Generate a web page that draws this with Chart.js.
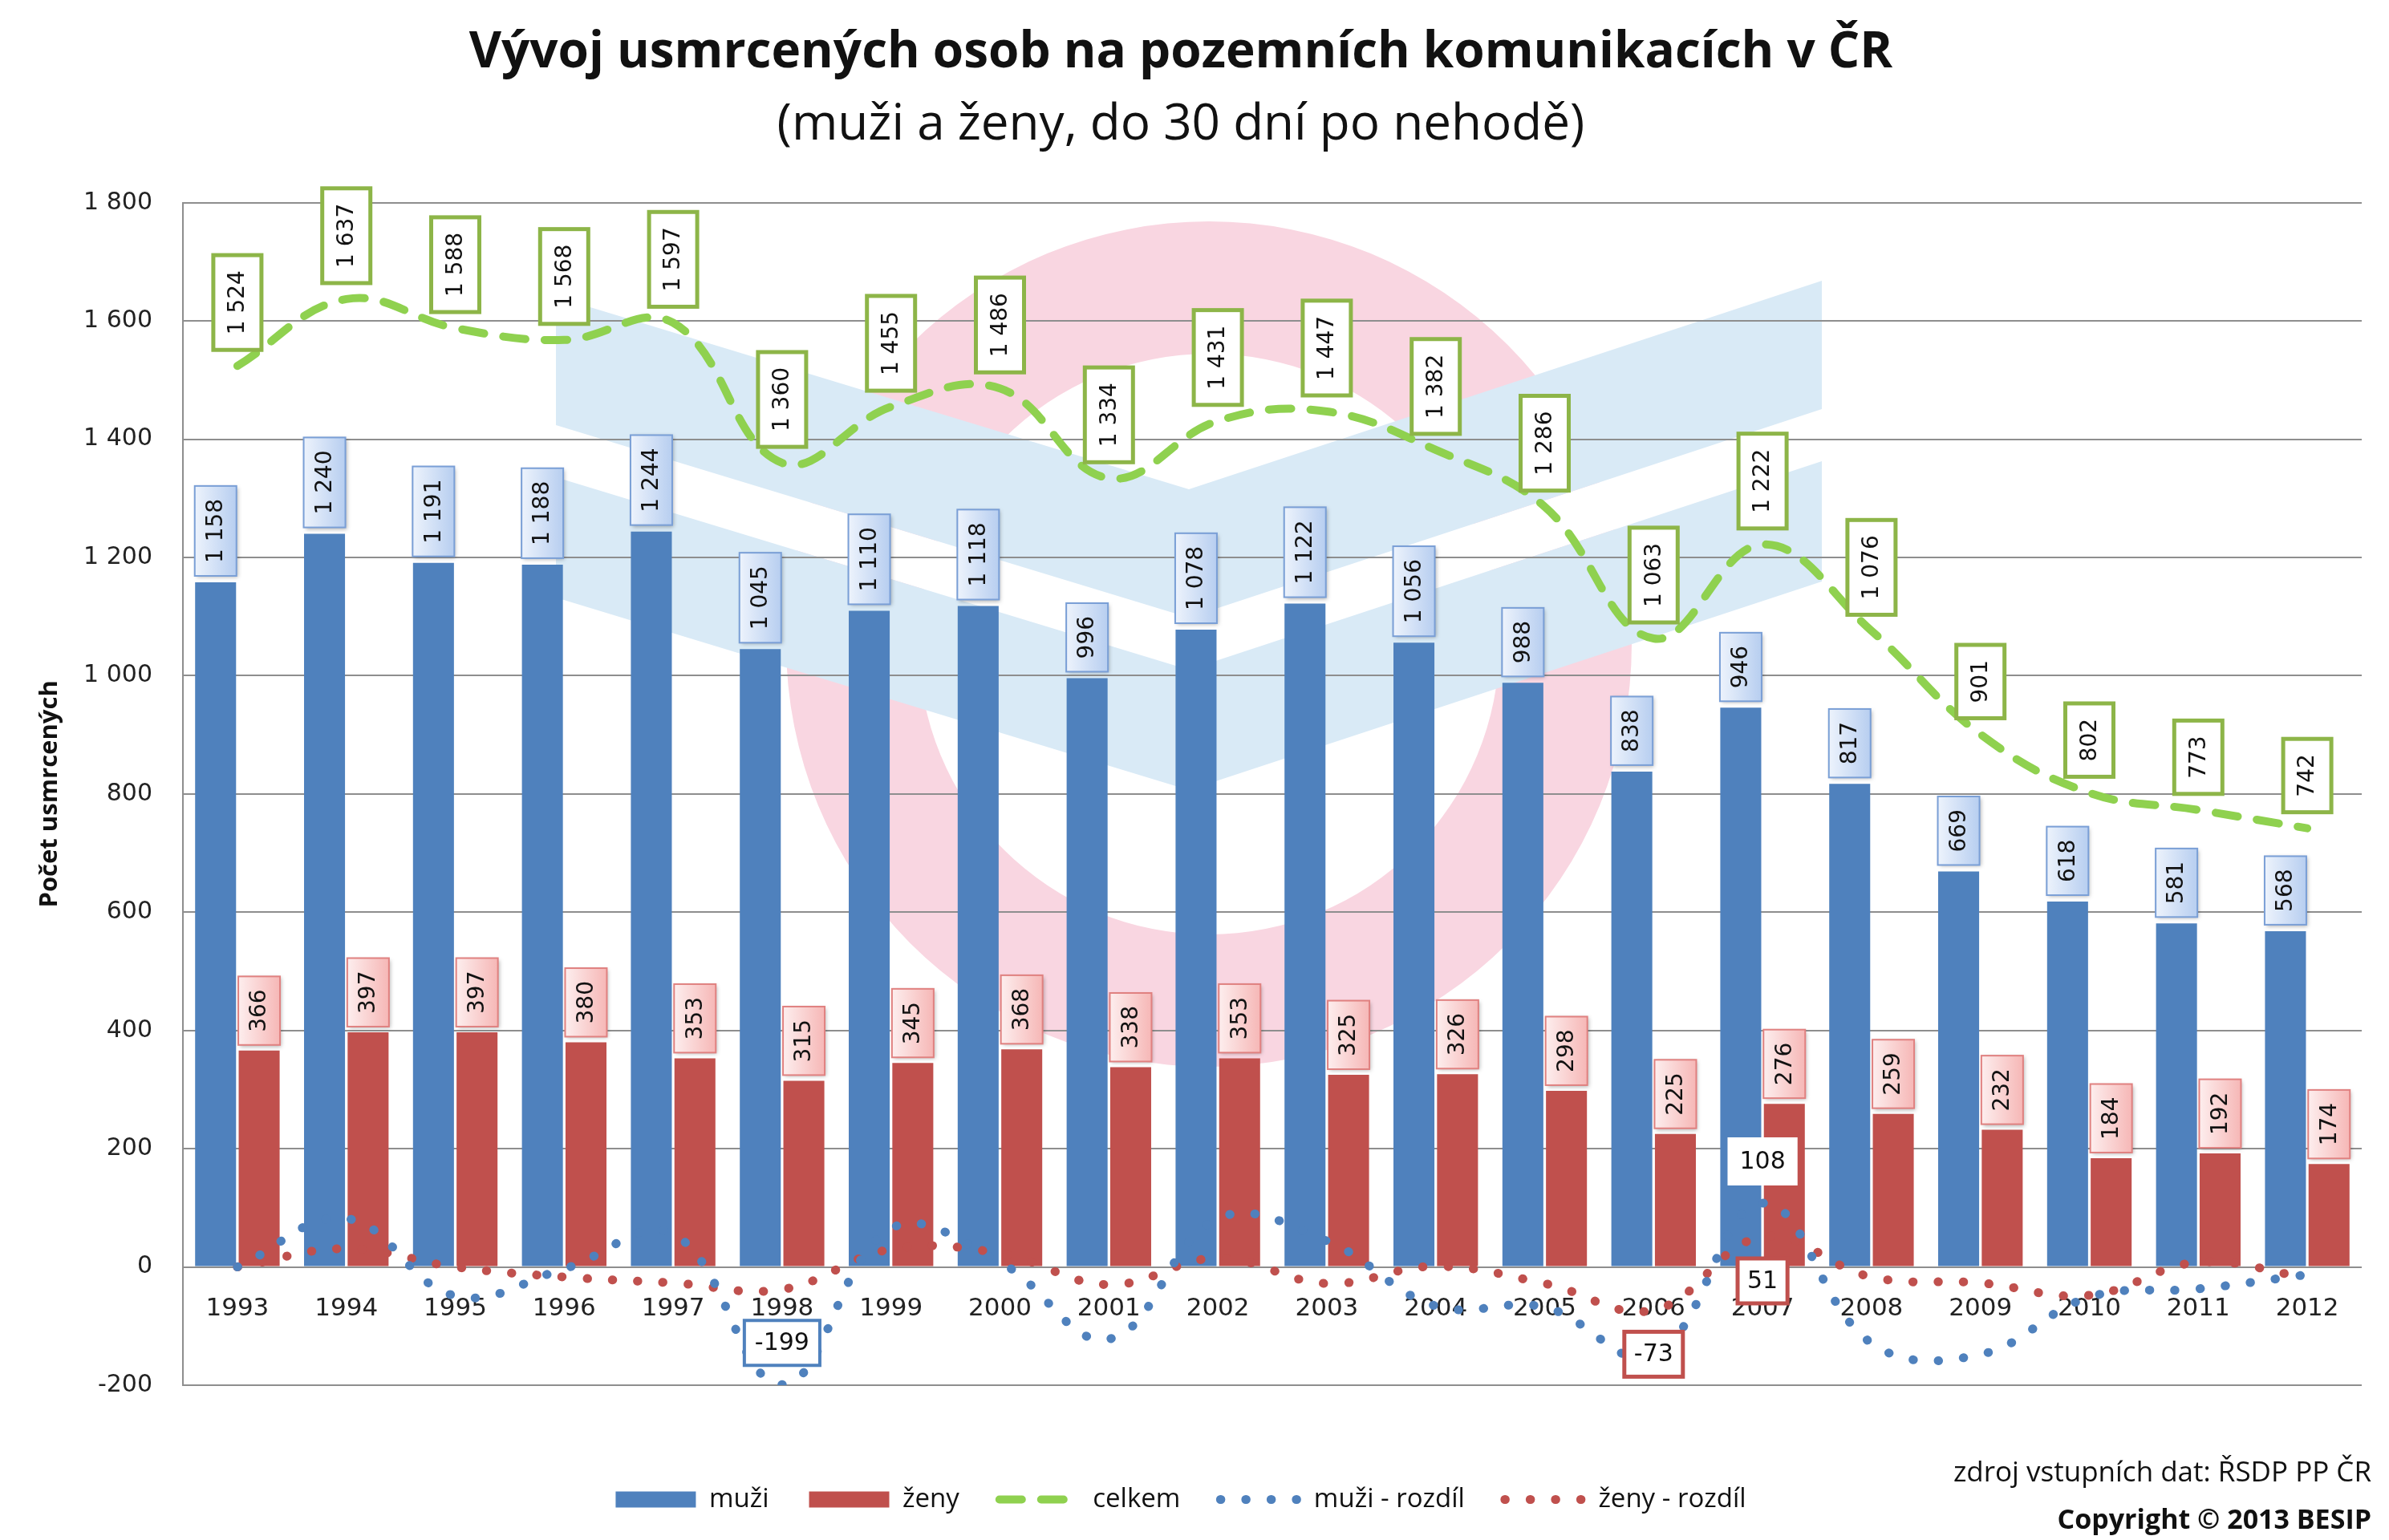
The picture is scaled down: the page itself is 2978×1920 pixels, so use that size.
<!DOCTYPE html>
<html><head><meta charset="utf-8">
<script src="https://cdn.jsdelivr.net/npm/chart.js@4.4.1/dist/chart.umd.min.js"></script>
<style>
html,body{margin:0;padding:0;background:#fff;}
#wrap{position:relative;width:2978px;height:1920px;overflow:hidden;}
#c{position:absolute;left:0;top:0;}
.src{position:absolute;right:22px;font-family:"Open Sans";color:#111;white-space:nowrap;}
</style></head><body>
<div id="wrap"><canvas id="c" width="2978" height="1920"></canvas>
<div class="src" style="top:1810px;font-size:35px;line-height:48px;">zdroj vstupních dat: ŘSDP PP ČR</div>
<div class="src" style="top:1869px;font-size:34px;line-height:48px;font-weight:bold;">Copyright © 2013 BESIP</div>
</div>
<script>
const years = ['1993','1994','1995','1996','1997','1998','1999','2000','2001','2002','2003','2004','2005','2006','2007','2008','2009','2010','2011','2012'];
const muzi = [1158,1240,1191,1188,1244,1045,1110,1118,996,1078,1122,1056,988,838,946,817,669,618,581,568];
const zeny = [366,397,397,380,353,315,345,368,338,353,325,326,298,225,276,259,232,184,192,174];
const celkem = [1524,1637,1588,1568,1597,1360,1455,1486,1334,1431,1447,1382,1286,1063,1222,1076,901,802,773,742];
const muziRozdil = [0,82,-49,-3,56,-199,65,8,-122,82,44,-66,-68,-150,108,-129,-148,-51,-37,-13];
const zenyRozdil = [0,31,0,-17,-27,-38,30,23,-30,15,-28,1,-28,-73,51,-17,-27,-48,8,-18];
const muziRozdilLabeled = [5, 14];
const zenyRozdilLabeled = [13, 14];
const yTicks = [-200,0,200,400,600,800,1000,1200,1400,1600,1800];

const fmt = v => (v < 0 ? '-' : '') + String(Math.abs(v)).replace(/\B(?=(\d{3})+(?!\d))/g, ' ');

const watermark = {
  id: 'watermark',
  beforeDraw(chart) {
    const ctx = chart.ctx, a = chart.chartArea;
    ctx.save();
    ctx.beginPath(); ctx.rect(a.left, a.top, a.right - a.left, a.bottom - a.top); ctx.clip();
    ctx.fillStyle = '#f9d6e1';
    ctx.beginPath();
    ctx.arc(1507, 803, 527, 0, Math.PI * 2);
    ctx.arc(1507, 803, 362, 0, Math.PI * 2, true);
    ctx.fill('evenodd');
    const L = 693, C = 1482, R = 2271;
    const poly = (pts, col) => { ctx.fillStyle = col; ctx.beginPath(); pts.forEach((p, i) => i ? ctx.lineTo(p[0], p[1]) : ctx.moveTo(p[0], p[1])); ctx.closePath(); ctx.fill(); };
    poly([[L,530],[C,770],[R,510],[R,575],[C,835],[L,595]], '#ffffff');
    poly([[L,370],[C,610],[R,350],[R,510],[C,770],[L,530]], '#d9eaf6');
    poly([[L,595],[C,835],[R,575],[R,725],[C,985],[L,745]], '#d9eaf6');
    ctx.restore();
  }
};

const valueBoxes = {
  id: 'valueBoxes',
  afterDatasetsDraw(chart) {
    const ctx = chart.ctx;
    chart.data.datasets.forEach((ds, di) => {
      const cfg = ds.boxLabel;
      if (!cfg) return;
      const meta = chart.getDatasetMeta(di);
      meta.data.forEach((el, i) => {
        if (cfg.indices && !cfg.indices.includes(i)) return;
        const txt = fmt(ds.data[i]);
        ctx.save();
        ctx.font = cfg.font;
        const tw = ctx.measureText(txt).width;
        const Lb = tw + 2 * cfg.pad, T = cfg.thick;
        let cx = el.x, cy;
        const stroke = (cfg.strokeAt && cfg.strokeAt[i]) || cfg.stroke;
        if (cfg.rotate) {
          cy = el.y - cfg.gap - Lb / 2;
          ctx.translate(cx, cy);
          ctx.rotate(-Math.PI / 2);
          if (cfg.shadow) { ctx.shadowColor = 'rgba(0,0,0,0.3)'; ctx.shadowBlur = 5; ctx.shadowOffsetX = 2; ctx.shadowOffsetY = 2; }
          let fill = cfg.fill;
          if (cfg.fillB) { const g = ctx.createLinearGradient(0, -T / 2, 0, T / 2); g.addColorStop(0, cfg.fill); g.addColorStop(1, cfg.fillB); fill = g; }
          ctx.fillStyle = fill;
          ctx.fillRect(-Lb / 2, -T / 2, Lb, T);
          ctx.shadowColor = 'transparent';
          ctx.lineWidth = cfg.lw; ctx.strokeStyle = stroke;
          ctx.strokeRect(-Lb / 2, -T / 2, Lb, T);
        } else {
          cy = el.y + (cfg.side[i] === 'below' ? cfg.offset : -cfg.offset);
          ctx.translate(cx, cy);
          ctx.fillStyle = cfg.fill;
          ctx.fillRect(-Lb / 2, -T / 2, Lb, T);
          ctx.lineWidth = cfg.lw; ctx.strokeStyle = stroke;
          ctx.strokeRect(-Lb / 2, -T / 2, Lb, T);
        }
        ctx.fillStyle = '#111';
        ctx.textAlign = 'center'; ctx.textBaseline = 'middle';
        ctx.fillText(txt, 0, 1);
        ctx.restore();
      });
    });
  }
};

const ctx = document.getElementById('c').getContext('2d');
new Chart(ctx, {
  type: 'bar',
  data: {
    labels: years,
    datasets: [
      { type: 'bar', label: 'muži', data: muzi, backgroundColor: '#4f81bd', order: 10,
        boxLabel: { rotate: true, font: '28px "DejaVu Sans"', pad: 16, thick: 52, gap: 8, fill: '#edf3fc', fillB: '#b7cef0', stroke: '#7a9fd6', lw: 2, shadow: true } },
      { type: 'bar', label: 'ženy', data: zeny, backgroundColor: '#c0504d', order: 10,
        boxLabel: { rotate: true, font: '28px "DejaVu Sans"', pad: 16, thick: 52, gap: 7, fill: '#fdeeee', fillB: '#f6b7b6', stroke: '#e08180', lw: 2, shadow: true } },
      { type: 'line', label: 'celkem', data: celkem, borderColor: '#8fd14f', backgroundColor: '#8fd14f', borderWidth: 10,
        borderDash: [28, 24], borderCapStyle: 'round', pointRadius: 0, tension: 0.4, fill: false, order: 1,
        boxLabel: { rotate: true, font: '28px "DejaVu Sans"', pad: 19, thick: 60, gap: 20, fill: '#ffffff', stroke: '#8db548', lw: 5 } },
      { type: 'line', label: 'muži - rozdíl', data: muziRozdil, borderColor: '#4f81bd', backgroundColor: '#4f81bd', borderWidth: 11,
        borderDash: [0.5, 31], borderCapStyle: 'round', pointRadius: 0, tension: 0.4, fill: false, order: 2,
        boxLabel: { rotate: false, indices: muziRozdilLabeled, side: { 5: 'above', 14: 'above' }, font: '30px "DejaVu Sans"', pad: 13, thick: 56, offset: 52, fill: '#ffffff', stroke: '#4f81bd', strokeAt: { 14: '#ffffff' }, lw: 4 } },
      { type: 'line', label: 'ženy - rozdíl', data: zenyRozdil, borderColor: '#c0504d', backgroundColor: '#c0504d', borderWidth: 11,
        borderDash: [0.5, 31], borderCapStyle: 'round', pointRadius: 0, tension: 0.4, fill: false, order: 2,
        boxLabel: { rotate: false, indices: zenyRozdilLabeled, side: { 13: 'below', 14: 'below' }, font: '30px "DejaVu Sans"', pad: 12, thick: 56, offset: 55, fill: '#ffffff', stroke: '#c0504d', lw: 5 } }
    ]
  },
  options: {
    responsive: false,
    animation: false,
    devicePixelRatio: 1,
    layout: { padding: { top: 0, left: 0, right: 34, bottom: 24 } },
    datasets: { bar: { categoryPercentage: 0.8, barPercentage: 0.94 } },
    scales: {
      x: {
        type: 'category',
        position: { y: 0 },
        grid: { display: false, drawTicks: false },
        border: { display: false },
        ticks: { font: { family: 'DejaVu Sans', size: 31 }, color: '#222', padding: 34, maxRotation: 0, autoSkip: false },
        afterFit: s => { s.height = 0; }
      },
      spacer: {
        type: 'category',
        axis: 'x',
        position: 'bottom',
        display: true,
        grid: { display: false, drawTicks: false },
        border: { display: false },
        ticks: { display: false },
        afterFit: s => { s.height = 76; }
      },
      y: {
        position: 'left',
        min: -200, max: 1800,
        afterBuildTicks: s => { s.ticks = yTicks.map(v => ({ value: v })); },
        grid: { color: '#8e8e8e', lineWidth: 2, drawTicks: false },
        border: { display: true, color: '#8e8e8e', width: 2 },
        ticks: { font: { family: 'DejaVu Sans', size: 30 }, color: '#222', padding: 38, callback: v => fmt(v) },
        title: { display: true, text: 'Počet usmrcených', font: { family: 'Open Sans', size: 31, weight: 'bold' }, color: '#111', padding: { top: 44, bottom: 0 } },
        afterFit: s => { s.width = 228; }
      }
    },
    plugins: {
      title: { display: true, text: 'Vývoj usmrcených osob na pozemních komunikacích v ČR', font: { family: 'Open Sans', size: 62, weight: 'bold' }, color: '#111', padding: { top: 29, bottom: 0 } },
      subtitle: { display: true, text: '(muži a ženy, do 30 dní po nehodě)', font: { family: 'Open Sans', size: 62, weight: 'normal' }, color: '#111', padding: { top: 16, bottom: 59 } },
      legend: {
        position: 'bottom',
        labels: {
          usePointStyle: true, pointStyleWidth: 100, boxHeight: 20, padding: 50,
          font: { family: 'Open Sans', size: 33 }, color: '#111',
          sort: (a, b) => a.datasetIndex - b.datasetIndex,
          generateLabels(chart) {
            const items = Chart.defaults.plugins.legend.labels.generateLabels(chart);
            items.forEach(it => {
              const ds = chart.data.datasets[it.datasetIndex];
              if (ds.type === 'bar') { it.pointStyle = 'rect'; it.lineWidth = 0; }
              else {
                it.pointStyle = 'line';
                it.lineWidth = ds.borderWidth;
                it.lineDash = ds.borderDash;
                it.lineCap = ds.borderCapStyle;
                it.strokeStyle = ds.borderColor;
              }
            });
            return items;
          }
        }
      },
      tooltip: { enabled: false }
    }
  },
  plugins: [watermark, valueBoxes]
});
</script>
</body></html>
